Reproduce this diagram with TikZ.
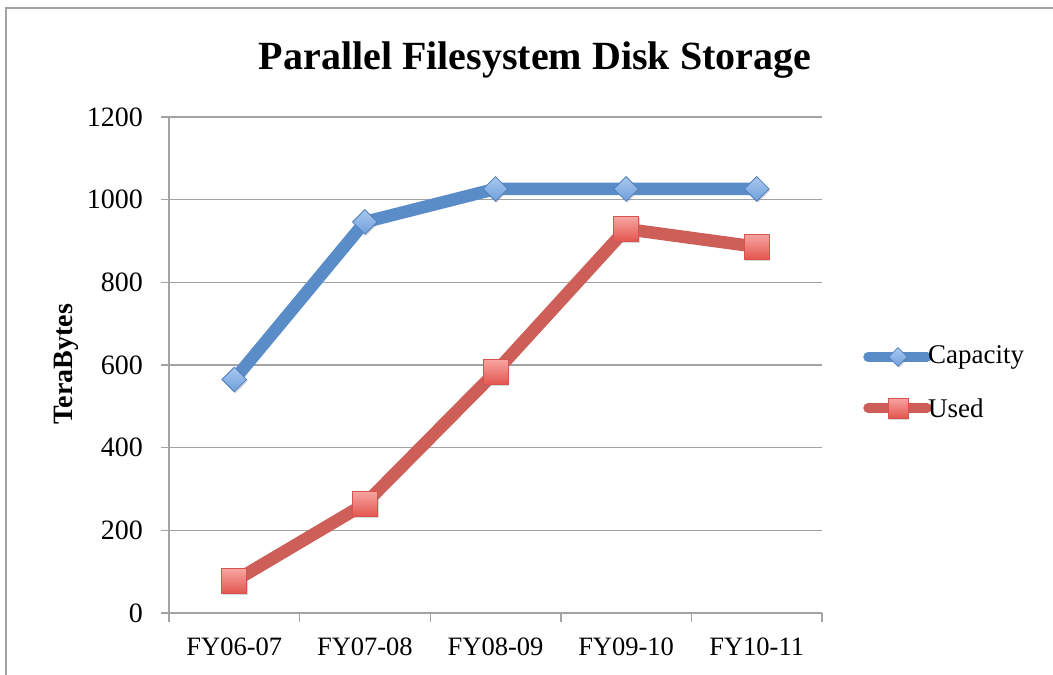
\documentclass[tikz,border=0pt]{standalone}
\usepackage{fontspec}
\setmainfont{Liberation Serif}
\usetikzlibrary{shapes.geometric,shadows}
\definecolor{capblue}{HTML}{5A8DC8}
\definecolor{capedge}{HTML}{4F7FBE}
\definecolor{captop}{HTML}{A9C8EE}
\definecolor{capbot}{HTML}{6F9FDC}
\definecolor{usedred}{HTML}{CD5F58}
\definecolor{usededge}{HTML}{D9534E}
\definecolor{usedtop}{HTML}{F7A5A1}
\definecolor{usedbot}{HTML}{E4554F}
\definecolor{gridgray}{HTML}{A3A3A3}
\tikzset{
  gridline/.style={draw=gridgray, line width=1.4pt},
  framel/.style={draw=gridgray, line width=1.5pt},
  capline/.style={draw=capblue, line width=12.5pt, line join=round},
  usedline/.style={draw=usedred, line width=12.5pt, line join=round},
  capmark/.style={diamond, draw=capedge, line width=0.8pt, top color=captop, bottom color=capbot,
    minimum width=25pt, minimum height=25pt, inner sep=0pt,
    drop shadow={shadow xshift=1.2pt, shadow yshift=-1.5pt, opacity=.3}},
  usedmark/.style={rectangle, draw=usededge, line width=0.8pt, top color=usedtop, bottom color=usedbot,
    minimum width=25pt, minimum height=25pt, inner sep=0pt,
    drop shadow={shadow xshift=1.2pt, shadow yshift=-1.5pt, opacity=.3}},
  ticklabel/.style={font=\fontsize{28}{32}\selectfont, inner sep=0pt},
  catlabel/.style={font=\fontsize{26.5}{30}\selectfont, inner sep=0pt},
  leglabel/.style={font=\fontsize{27}{31}\selectfont, inner sep=0pt},
}
\begin{document}
\begin{tikzpicture}[x=1pt,y=-1pt]
\useasboundingbox (0,0) rectangle (1053,675);
\fill[white] (0,0) rectangle (1053,675);
\draw[framel] (6,675) -- (6,8) -- (1053,8);
% title
\node[font=\fontsize{40}{46}\selectfont\bfseries, inner sep=0pt] (title) at (535,60) {Parallel Filesystem Disk Storage};
% y axis label
\node[font=\fontsize{28}{32}\selectfont\bfseries, rotate=90, inner sep=0pt] (ylab) at (66,364) {TeraBytes};
% gridlines and y labels
\foreach \v [evaluate=\v as \yy using 613-\v*0.413333] in {0,200,400,600,800,1000,1200} {
  \draw[gridline] (161,\yy) -- (822,\yy);
  \node[ticklabel, anchor=east] (yl\v) at (143,\yy) {\v};
}
% axis and category ticks
\draw[gridline] (169,117) -- (169,622);
\foreach \i in {1,...,5} {
  \draw[gridline] ({169+130.6*\i},613) -- ({169+130.6*\i},622);
}
\foreach \i/\lab in {1/FY06-07,2/FY07-08,3/FY08-09,4/FY09-10,5/FY10-11} {
  \node[catlabel] (xl\i) at ({169+130.6*\i-65.3},647) {\lab};
}
% data coordinates
\foreach \i/\c/\u in {1/565/77,2/946/264,3/1026/583,4/1026/929,5/1026/886} {
  \coordinate (c\i) at ({169+130.6*\i-65.3},{613-\c*0.413333});
  \coordinate (u\i) at ({169+130.6*\i-65.3},{613-\u*0.413333});
}
\draw[capline] (c1) -- (c2) -- (c3) -- (c4) -- (c5);
\draw[usedline] (u1) -- (u2) -- (u3) -- (u4) -- (u5);
\foreach \i in {1,...,5} {
  \node[capmark] (cm\i) at (c\i) {};
}
\foreach \i in {1,...,5} {
  \node[usedmark] (um\i) at (u\i) {};
}
% legend
\coordinate (lca) at (868,357);
\coordinate (lcb) at (927,357);
\coordinate (lua) at (868,408);
\coordinate (lub) at (927,408);
\draw[capline, line cap=round, line width=9.5pt] (lca) -- (lcb);
\draw[usedline, line cap=round, line width=9.5pt] (lua) -- (lub);
\node[capmark, minimum width=19pt, minimum height=19pt, drop shadow={opacity=0}] (lcm) at (898,357) {};
\node[usedmark, minimum width=20pt, minimum height=20pt, drop shadow={opacity=0}] (lum) at (898,408) {};
\node[leglabel, anchor=west] (lct) at (928,357) {Capacity};
\node[leglabel, anchor=west] (lut) at (928,408) {Used};
\end{tikzpicture}
\end{document}
